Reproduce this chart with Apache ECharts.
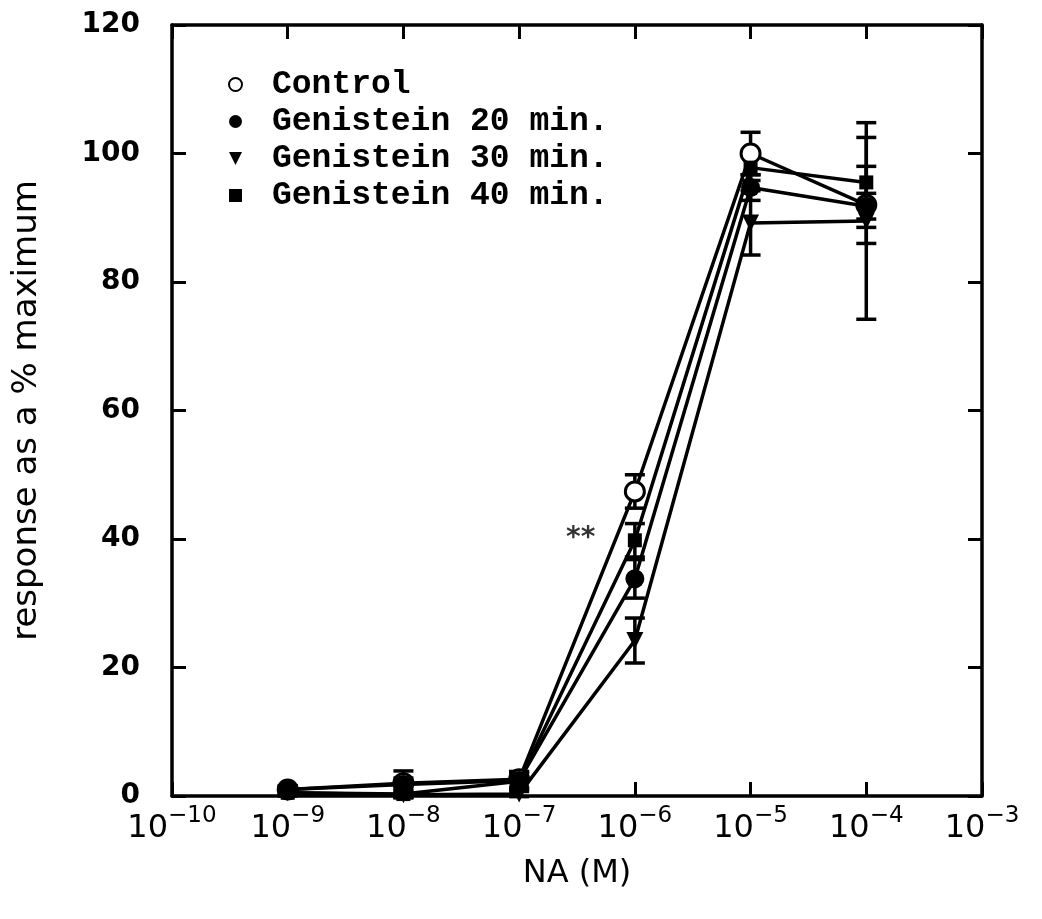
<!DOCTYPE html>
<html>
<head>
<meta charset="utf-8">
<script src="https://cdn.jsdelivr.net/npm/echarts@6/dist/echarts.min.js"></script>
<style>
  html, body { margin: 0; padding: 0; background: #fff; }
  #chart { width: 1042px; height: 919px; }
</style>
</head>
<body>
<div id="chart"></div>
<script>
// NA concentration (M)
const doses = [1e-9, 1e-8, 1e-7, 1e-6, 1e-5, 1e-4];
const seriesNames = ["Control", "Genistein 20 min.", "Genistein 30 min.", "Genistein 40 min."];

// response as % maximum
const control = [1.0, 2.0, 2.6, 47.4, 100.0, 92.0];
const gen20 = [1.0, 1.8, 2.4, 33.8, 94.7, 91.8];
const gen30 = [0.5, 0.2, 0.3, 24.2, 89.2, 89.5];
const gen40 = [0.5, 0.3, 2.3, 39.8, 97.8, 95.5];

// error (+/-)
const controlErr = [0.5, 0.8, 1.2, 2.6, 3.3, 6.0];
const gen20Err = [0.6, 2.1, 1.4, 3.0, 2.0, 2.0];
const gen30Err = [0.4, 0.4, 0.4, 3.5, 5.0, 15.3];
const gen40Err = [0.5, 0.5, 1.2, 2.6, 2.0, 7.0];

// significance mark
const starPos = [3.4e-7, 40];
const starText = "**";

const xTicks = [1e-10, 1e-3];

const chart = echarts.init(document.getElementById("chart"));

const allVals = [control, gen20, gen30, gen40];
const allErr = [controlErr, gen20Err, gen30Err, gen40Err];
const tri = "path://M0,0L10,0L5,10Z";
const symbols = ["circle", "circle", tri, "rect"];
const symSizes = [19, 19, 17, 14];
const fills = ["#fff", "#000", "#000", "#000"];

const numFont = "DejaVu Sans";

function errSeries(i) {
  return {
    type: "custom",
    z: 1,
    silent: true,
    data: doses.map((d, k) => [d, allVals[i][k] - allErr[i][k], allVals[i][k] + allErr[i][k]]),
    renderItem: function (params, api) {
      const lo = api.coord([api.value(0), api.value(1)]);
      const hi = api.coord([api.value(0), api.value(2)]);
      const w = 10;
      const st = { stroke: "#000", lineWidth: 3.5 };
      return {
        type: "group",
        children: [
          { type: "line", shape: { x1: lo[0], y1: lo[1], x2: hi[0], y2: hi[1] }, style: st },
          { type: "line", shape: { x1: lo[0] - w, y1: lo[1], x2: lo[0] + w, y2: lo[1] }, style: st },
          { type: "line", shape: { x1: hi[0] - w, y1: hi[1], x2: hi[0] + w, y2: hi[1] }, style: st }
        ]
      };
    }
  };
}

function lineSeries(i) {
  return {
    name: seriesNames[i],
    type: "line",
    z: 3,
    data: doses.map((d, k) => [d, allVals[i][k]]),
    symbol: symbols[i],
    symbolSize: symSizes[i],
    showAllSymbol: true,
    lineStyle: { color: "#000", width: 3.5 },
    itemStyle: { color: fills[i], borderColor: "#000", borderWidth: i === 0 ? 3 : 0 },
    emphasis: { disabled: true },
    animation: false
  };
}

const series = [];
for (let i = 0; i < 4; i++) series.push(errSeries(i));
for (let i = 0; i < 4; i++) series.push(lineSeries(i));
series.push({
  type: "scatter",
  data: [starPos],
  symbolSize: 0,
  label: {
    show: true,
    position: "inside",
    formatter: starText,
    color: "#000",
    fontSize: 28,
    fontWeight: "bold",
    fontFamily: numFont
  },
  silent: true
});

// onZero off, otherwise the top/right axes get pulled onto the other side
const axisLine = { show: true, onZero: false, lineStyle: { color: "#000", width: 3.5 } };
const tickStyle = { show: true, inside: true, length: 14, lineStyle: { width: 3, color: "#000" } };

const option = {
  backgroundColor: "#fff",
  animation: false,
  grid: { left: 172, right: 60, top: 25, bottom: 123 },
  legend: {
    orient: "vertical",
    left: 223,
    top: 63,
    itemWidth: 13,
    itemHeight: 13,
    itemGap: 4,
    selectedMode: false,
    data: [
      { name: seriesNames[0], icon: "circle" },
      { name: seriesNames[1], icon: "circle" },
      { name: seriesNames[2], icon: tri },
      { name: seriesNames[3], icon: "rect" }
    ],
    textStyle: {
      fontFamily: "Liberation Mono",
      fontWeight: "bold",
      fontSize: 33,
      lineHeight: 33,
      color: "#000",
      padding: [0, 0, 0, 25]
    }
  },
  xAxis: [
    {
      type: "log",
      logBase: 10,
      min: xTicks[0],
      max: xTicks[1],
      name: "NA (M)",
      nameLocation: "middle",
      nameGap: 62,
      nameTextStyle: { fontFamily: numFont, fontSize: 32, color: "#000" },
      axisLine: axisLine,
      axisTick: tickStyle,
      minorTick: { show: false },
      splitLine: { show: false },
      axisLabel: {
        margin: 9,
        showMinLabel: true,
        showMaxLabel: true,
        formatter: function (v) {
          const e = Math.round(Math.log10(v));
          return "{b|10}{s|" + (e < 0 ? "\u2212" + (-e) : e) + "}";
        },
        rich: {
          b: { fontFamily: numFont, fontSize: 32, color: "#000", lineHeight: 40, verticalAlign: "bottom" },
          s: { fontFamily: numFont, fontSize: 23, color: "#000", lineHeight: 40, verticalAlign: "top" }
        }
      }
    },
    {
      type: "log",
      logBase: 10,
      min: xTicks[0],
      max: xTicks[1],
      position: "top",
      axisLine: axisLine,
      axisTick: tickStyle,
      axisLabel: { show: false },
      splitLine: { show: false }
    }
  ],
  yAxis: [
    {
      type: "value",
      min: 0,
      max: 120,
      interval: 20,
      name: "response as a % maximum",
      nameLocation: "middle",
      nameGap: 128,
      nameTextStyle: { fontFamily: numFont, fontSize: 34, color: "#000" },
      axisLine: axisLine,
      axisTick: tickStyle,
      splitLine: { show: false },
      axisLabel: { margin: 32, fontFamily: numFont, fontSize: 28, fontWeight: "bold", color: "#000" }
    },
    {
      type: "value",
      min: 0,
      max: 120,
      interval: 20,
      position: "right",
      axisLine: axisLine,
      axisTick: tickStyle,
      splitLine: { show: false },
      axisLabel: { show: false }
    }
  ],
  series: series
};

chart.setOption(option);
</script>
</body>
</html>
